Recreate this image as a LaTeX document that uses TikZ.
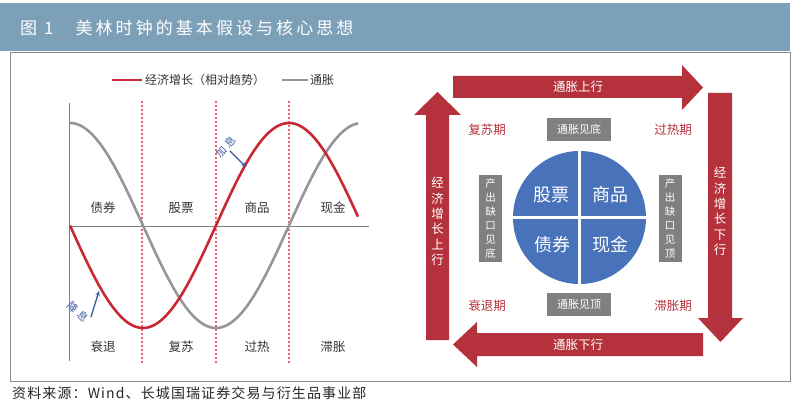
\documentclass[tikz,border=0pt]{standalone}
\usepackage{fontspec}
\setmainfont{Noto Sans CJK SC}
\newfontfamily\titlefont[LetterSpace=18]{Noto Sans CJK SC}
\newfontfamily\footfont[LetterSpace=8]{Noto Sans CJK SC}
\usepackage{xcolor}
\usetikzlibrary{arrows.meta}

\definecolor{barblue}{RGB}{125,160,185}
\definecolor{framegray}{RGB}{140,140,140}
\definecolor{curvered}{RGB}{200,40,52}
\definecolor{curvegray}{RGB}{150,150,150}
\definecolor{dotred}{RGB}{240,100,112}
\definecolor{noteblue}{RGB}{60,90,160}
\definecolor{clockred}{RGB}{181,49,59}
\definecolor{pieblue}{RGB}{72,114,186}
\definecolor{boxgray}{RGB}{128,128,130}

\begin{document}
\begin{tikzpicture}[
    x=1pt, y=-1pt,
    figtitle/.style={text=white, font=\titlefont\fontsize{17}{17}\selectfont, inner sep=0pt},
    lbl/.style={text=black!80, font=\fontsize{12.5}{14}\selectfont, inner sep=0pt},
    legendlbl/.style={text=black!80, font=\fontsize{12}{14}\selectfont, inner sep=0pt, anchor=west},
    ratelbl/.style={text=noteblue, font=\fontsize{10.5}{10.5}\selectfont, inner sep=0.5pt},
    rarrow/.style={-{Stealth[length=5pt, width=4.5pt]}, noteblue, line width=1.3pt},
    redcurve/.style={curvered, line width=2.6pt},
    graycurve/.style={curvegray, line width=2.6pt},
    dotline/.style={dotred, line width=2pt, dash pattern=on 2pt off 2pt},
    axisline/.style={black!50, line width=0.9pt},
    bigarrow/.style={fill=clockred},
    atext/.style={text=white, font=\fontsize{12.5}{15.4}\selectfont, align=center, inner sep=0pt},
    phaselbl/.style={text=clockred, font=\fontsize{12.5}{14}\selectfont, inner sep=0pt},
    gbox/.style={fill=boxgray, text=white, font=\fontsize{11}{12}\selectfont, inner sep=0pt, minimum width=64pt, minimum height=23pt},
    vbox/.style={fill=boxgray, text=white, font=\fontsize{10.5}{14}\selectfont, align=center, inner sep=0pt, minimum width=23pt, minimum height=87pt},
    slicelbl/.style={text=white, font=\fontsize{18}{18}\selectfont, inner sep=0pt}
]
\useasboundingbox (0,0) rectangle (800,403);

% Header and frame
\fill[barblue] (0,3) rectangle (790,51);
\node[figtitle, anchor=west] (title) at (20,28) {图\hspace{7pt}1\hspace{22pt}美林时钟的基本假设与核心思想};
\draw[framegray, line width=1pt] (10,53) rectangle (790,381);
\node[anchor=west, inner sep=0pt, font=\footfont\fontsize{14}{14}\selectfont, text=black!85] (source) at (12,393) {资料来源：Wind、长城国瑞证券交易与衍生品事业部};

% 1. Legend
\draw[redcurve] (112,80) -- (142,80);
\node[legendlbl] (leggrowth) at (145,80) {经济增长（相对趋势）};
\draw[graycurve] (282,80) -- (308,80);
\node[legendlbl] (leginfl) at (310,80) {通胀};

% 2. Axes and phase borders
\coordinate (origin) at (69,226);
\draw[axisline] (69,103) -- (69,361);
\draw[axisline] (origin) -- (369,226);
\foreach \x in {142,216,289}
    \draw[dotline] (\x,101) -- (\x,364);

% 3. Curves
\draw[graycurve] plot[domain=70:358, samples=120, smooth] (\x, {225.5-102.5*cos((\x-70)/292*360)});
\draw[redcurve] plot[domain=70:358, samples=120, smooth] (\x, {225.5+102.5*sin((\x-70)/292*360)});

% 4. Asset and phase labels
\foreach \x/\up/\down [count=\i] in {103/债券/衰退, 181/股票/复苏, 257/商品/过热, 333/现金/滞胀} {
    \node[lbl] (asset\i) at (\x,208) {\up};
    \node[lbl] (stage\i) at (\x,347) {\down};
}

% 5. Rate notes
\node[ratelbl, rotate=45] (hike) at (226,147) {加\hspace{3pt}息};
\coordinate (hiketip) at (246,167);
\draw[rarrow] (hike.south) -- (hiketip);
\node[ratelbl, rotate=-45] (cut) at (78,312) {降\hspace{3pt}息};
\coordinate (cuttip) at (99,291);
\draw[rarrow] (cut.north east) -- (cuttip);

% 6. Clock arrows
\fill[bigarrow] (453,76) -- (682,76) -- (682,65) -- (703,87.5) -- (682,110) -- (682,98) -- (453,98) -- cycle;
\node[atext] (influp) at (578,87) {通胀上行};
\fill[bigarrow] (708,93) -- (732,93) -- (732,318) -- (743,318) -- (720.5,342) -- (698,318) -- (708,318) -- cycle;
\node[atext] (growthdown) at (720,211.5) {经\\济\\增\\长\\下\\行};
\fill[bigarrow] (703,333) -- (477,333) -- (477,322) -- (453,344.5) -- (477,367) -- (477,356) -- (703,356) -- cycle;
\node[atext] (infldown) at (578,344.5) {通胀下行};
\fill[bigarrow] (426,340) -- (426,115) -- (414,115) -- (437.5,92) -- (461,115) -- (449,115) -- (449,340) -- cycle;
\node[atext] (growthup) at (437.5,221.5) {经\\济\\增\\长\\上\\行};

% 7. Phases and turning points
\node[phaselbl] (recovery) at (487,130) {复苏期};
\node[phaselbl] (overheat) at (673,130) {过热期};
\node[phaselbl] (recession) at (487,306) {衰退期};
\node[phaselbl] (stagflation) at (673,306) {滞胀期};
\node[gbox] (inflbottom) at (579,129.5) {通胀见底};
\node[gbox] (infltop) at (579,304.5) {通胀见顶};
\node[vbox] (gapbottom) at (490.5,218.5) {产\\出\\缺\\口\\见\\底};
\node[vbox] (gaptop) at (670,218.5) {产\\出\\缺\\口\\见\\顶};

% 8. Asset pie
\node[circle, fill=pieblue, minimum size=133pt, inner sep=0pt] (pie) at (579.5,217.5) {};
\draw[white, line width=3pt] (pie.north) -- (pie.south);
\draw[white, line width=3pt] (pie.west) -- (pie.east);
\node[slicelbl] (stocks) at (551,195) {股票};
\node[slicelbl] (goods) at (610,195) {商品};
\node[slicelbl] (bonds) at (552,245) {债券};
\node[slicelbl] (cash) at (610,245) {现金};

\end{tikzpicture}
\end{document}
